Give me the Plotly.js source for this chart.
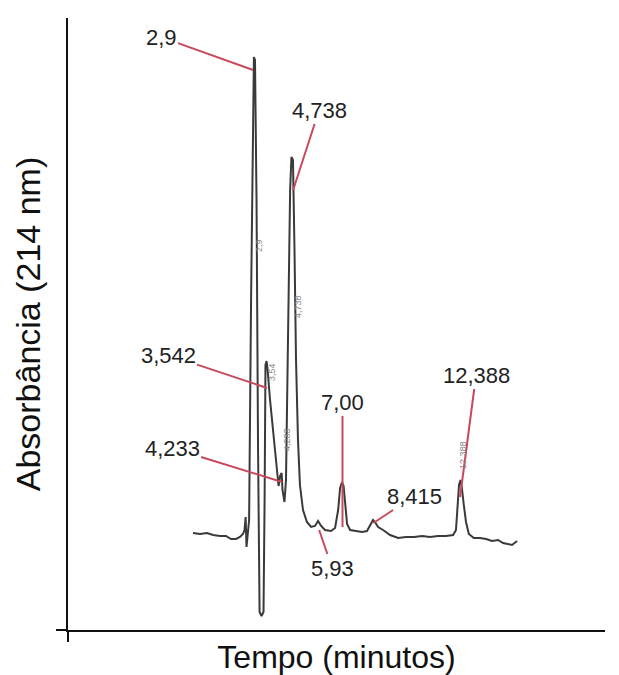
<!DOCTYPE html>
<html>
<head>
<meta charset="utf-8">
<script src="https://cdn.plot.ly/plotly-3.0.1.min.js"></script>
<style>html,body{margin:0;padding:0;background:#fff;}</style>
</head>
<body>
<div id="chart" style="width:619px;height:675px;"></div>
<script>
// Chromatogram trace: retention time (min) and absorbance (arbitrary units)
const timeMin = [0.15,0.47,0.79,1.07,1.39,1.66,1.89,2.12,2.30,2.44,2.51,2.56,2.58,2.60,2.65,2.72,2.81,2.90,2.94,2.99,3.06,3.13,3.20,3.29,3.38,3.43,3.47,3.52,3.56,3.68,3.82,3.95,4.07,4.14,4.21,4.25,4.34,4.41,4.51,4.60,4.66,4.73,4.80,4.87,4.96,5.05,5.19,5.37,5.56,5.74,5.88,6.02,6.20,6.47,6.66,6.80,6.89,6.98,7.05,7.12,7.21,7.35,7.62,7.90,8.12,8.26,8.40,8.49,8.63,8.86,9.18,9.55,9.91,10.28,10.65,11.01,11.38,11.74,12.07,12.20,12.27,12.34,12.41,12.47,12.56,12.66,12.79,13.02,13.30,13.58,13.85,14.13,14.36,14.59,14.77,15.00];
const absorb = [0.4,0.2,0.4,0,-0.2,-0.2,-0.8,-0.8,-0.4,0.2,1,3.6,1,-2.4,-0.2,3,47,83,95.6,95,67,17,-15.4,-16.2,-15.4,7,34,34.8,33.4,27,21,15,9.8,11.8,12.4,9,6.6,11,37,69,75.6,75,57,35,19,10,5,2.6,1.6,1.8,2.8,1.8,1,0.8,1.4,5,9.4,10.6,9.8,6,2.2,1,0.8,0.6,0.8,1.8,3,2.6,1.6,1,0,-0.6,-0.4,-0.4,-0.2,-0.4,-0.2,-0.2,0,1,6,10,11,9.4,6,2.6,0.2,-0.6,-0.6,-0.8,-1.2,-1,-1.6,-1.8,-2,-1.2];

// Labelled peaks
const peakLabels = ["2,9","3,542","4,233","4,738","5,93","7,00","8,415","12,388"];
const peakTimes  = [2.9, 3.542, 4.233, 4.738, 5.93, 7.00, 8.415, 12.388];
const peakMarkA  = [93, 29.4, 10.6, 69, 1, 1.6, 2.4, 7.6];

// Small rotated integrator labels inside the trace
const innerLabels = ["2,9","3,54","4,233","4,738","12,388"];
const innerTimes  = [3.17, 3.77, 4.46, 4.96, 12.52];
const innerA      = [58, 32.6, 19, 45.8, 16];

const xRange = [-5.58, 19.03];
const yRange = [-19, 103.4];

const labelOffsets = [[-92,-33],[-99,-33],[-110,-34],[26,-80],[13,38],[0,-125],[41,-27],[16,-122]];

const annotations = peakLabels.map((t, i) => ({
  x: peakTimes[i], y: peakMarkA[i], xref: 'x', yref: 'y',
  text: t, showarrow: true, arrowhead: 0, arrowwidth: 2, arrowcolor: '#c84a5a',
  ax: labelOffsets[i][0], ay: labelOffsets[i][1], standoff: 0,
  font: {family: 'Liberation Sans, Arial, sans-serif', size: 22, color: '#222'}
})).concat(innerLabels.map((t, i) => ({
  x: innerTimes[i], y: innerA[i], xref: 'x', yref: 'y', text: t, showarrow: false,
  textangle: -90, font: {family: 'Liberation Sans, Arial, sans-serif', size: 9, color: '#888'}
})));

const trace = {
  x: timeMin, y: absorb, type: 'scatter', mode: 'lines',
  line: {color: '#3a3a3a', width: 2}, hoverinfo: 'skip'
};

const layout = {
  width: 619, height: 675,
  margin: {l: 68, r: 14, t: 18, b: 45},
  paper_bgcolor: '#fff', plot_bgcolor: '#fff',
  showlegend: false,
  xaxis: {
    range: xRange, showgrid: false, zeroline: false,
    showline: true, linecolor: '#111', linewidth: 2,
    ticks: 'outside', tickvals: [xRange[0]], ticklen: 10, tickwidth: 2, tickcolor: '#111',
    showticklabels: false,
    title: {text: 'Tempo (minutos)', font: {family: 'Liberation Sans, Arial, sans-serif', size: 32, color: '#111'}, standoff: 5}
  },
  yaxis: {
    range: yRange, showgrid: false, zeroline: false,
    showline: true, linecolor: '#111', linewidth: 2,
    ticks: 'outside', tickvals: [yRange[0]], ticklen: 10, tickwidth: 2, tickcolor: '#111',
    showticklabels: false,
    title: {text: 'Absorbância (214 nm)', font: {family: 'Liberation Sans, Arial, sans-serif', size: 34, color: '#111'}, standoff: 5}
  },
  annotations: annotations
};

Plotly.newPlot('chart', [trace], layout, {displayModeBar: false, staticPlot: true});
</script>
</body>
</html>
